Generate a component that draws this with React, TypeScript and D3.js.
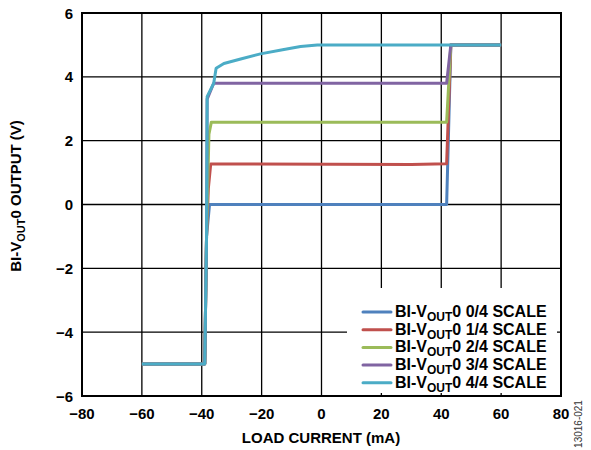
import React from "react";
import * as d3 from "d3";

type Pt = [number, number];

const xTicks = [-80, -60, -40, -20, 0, 20, 40, 60, 80];
const yTicks = [-6, -4, -2, 0, 2, 4, 6];

const seriesNames = ["0/4", "1/4", "2/4", "3/4", "4/4"];
const seriesColors = ["#4F81BD", "#C0504D", "#9BBB59", "#8064A2", "#4BACC6"];

const scale0: Pt[] = [[-60, -5], [-39, -5], [-38.4, -1], [-37.4, 0], [41.8, 0], [43.2, 5], [60, 5]];
const scale1: Pt[] = [[-60, -5], [-39, -5], [-38.4, -1], [-37.8, 0.5], [-37.0, 1.27], [30, 1.25], [41.8, 1.28], [43.2, 5], [60, 5]];
const scale2: Pt[] = [[-60, -5], [-39, -5], [-38.4, -1], [-37.6, 2.2], [-36.8, 2.58], [41.8, 2.58], [43.2, 5], [60, 5]];
const scale3: Pt[] = [[-60, -5], [-39, -5], [-38.4, -1], [-38.2, 3.3], [-36.0, 3.8], [41.8, 3.8], [43.2, 5], [60, 5]];
const scale4: Pt[] = [[-60, -5], [-39, -5], [-38.4, -1], [-38.2, 3.38], [-36.0, 3.8], [-35.2, 4.27], [-32.6, 4.42], [-27, 4.56], [-20.4, 4.72], [-13, 4.85], [-7, 4.95], [-1.4, 5], [60, 5]];
const seriesData = [scale0, scale1, scale2, scale3, scale4];

export default function App() {
  const W = 591, H = 450;
  const left = 82, right = 561, top = 13, bottom = 396;
  const x = d3.scaleLinear().domain([-80, 80]).range([left, right]);
  const y = d3.scaleLinear().domain([-6, 6]).range([bottom, top]);
  const line = d3.line<Pt>().x(d => x(d[0])).y(d => y(d[1]));
  const font = "'Liberation Sans', Arial, sans-serif";

  const legX = 347, legY = 288, legW = 210, legH = 105;
  const rowY0 = 312, rowStep = 17.7;

  return (
    <svg width={W} height={H} style={{ position: "absolute", left: 0, top: 0 }} fontFamily={font}>
      <rect width={W} height={H} fill="#fff" />
      {xTicks.slice(1, -1).map(t => (
        <line key={"gx" + t} x1={x(t)} x2={x(t)} y1={top} y2={bottom} stroke="#000" strokeWidth={1.3} />
      ))}
      {yTicks.slice(1, -1).map(t => (
        <line key={"gy" + t} x1={left} x2={right} y1={y(t)} y2={y(t)} stroke="#000" strokeWidth={1.3} />
      ))}
      {seriesData.map((d, i) => (
        <path key={i} d={line(d) || ""} fill="none" stroke={seriesColors[i]} strokeWidth={3} strokeLinejoin="round" />
      ))}
      <rect x={legX} y={legY} width={legW} height={legH} fill="#fff" />
      <rect x={left} y={top} width={right - left} height={bottom - top} fill="none" stroke="#000" strokeWidth={2} />
      {yTicks.map(t => (
        <text key={"ty" + t} x={73} y={y(t) + 5.5} textAnchor="end" fontSize={15} fontWeight="bold">
          {t < 0 ? "\u2212" + Math.abs(t) : t}
        </text>
      ))}
      {xTicks.map(t => (
        <text key={"tx" + t} x={x(t)} y={419} textAnchor="middle" fontSize={15} fontWeight="bold">
          {t < 0 ? "\u2212" + Math.abs(t) : t}
        </text>
      ))}
      <text x={321} y={443} textAnchor="middle" fontSize={15} fontWeight="bold">LOAD CURRENT (mA)</text>
      <text transform="translate(21,196) rotate(-90)" textAnchor="middle" fontSize={15} fontWeight="bold">
        BI-V<tspan fontSize={11} dy={4}>OUT</tspan><tspan dy={-4}>0 OUTPUT (V)</tspan>
      </text>
      {seriesNames.map((n, i) => (
        <g key={"leg" + i}>
          <line x1={363} x2={391} y1={rowY0 + i * rowStep} y2={rowY0 + i * rowStep} stroke={seriesColors[i]} strokeWidth={3} strokeLinecap="round" />
          <text x={395} y={rowY0 + i * rowStep + 5} fontSize={16} fontWeight="bold">
            BI-V<tspan fontSize={12} dy={4}>OUT</tspan><tspan dy={-4}>0 {n} SCALE</tspan>
          </text>
        </g>
      ))}
      <text transform="translate(582,424) rotate(-90)" textAnchor="middle" fontSize={10} fill="#333">13016-021</text>
    </svg>
  );
}
